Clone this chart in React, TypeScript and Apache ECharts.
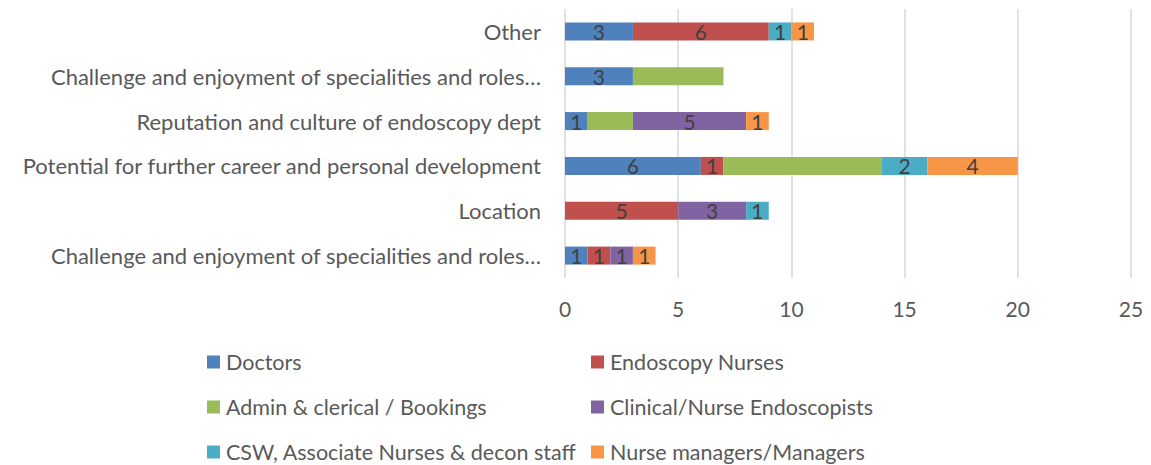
import React, { useEffect, useRef } from "react";
import * as echarts from "echarts";

const categories = [
  "Challenge and enjoyment of specialities and roles…",
  "Location",
  "Potential for further career and personal development",
  "Reputation and culture of endoscopy dept",
  "Challenge and enjoyment of specialities and roles…",
  "Other",
];

const seriesNames = [
  "Doctors",
  "Endoscopy Nurses",
  "Admin & clerical / Bookings",
  "Clinical/Nurse Endoscopists",
  "CSW, Associate Nurses & decon staff",
  "Nurse managers/Managers",
];

const doctors = [1, 0, 6, 1, 3, 3];
const endoscopyNurses = [1, 5, 1, 0, 0, 6];
const adminClerical = [0, 0, 7, 2, 4, 0];
const clinicalEndoscopists = [1, 3, 0, 5, 0, 0];
const cswStaff = [0, 1, 2, 0, 0, 1];
const managers = [1, 0, 4, 1, 0, 1];

const xTicks = [0, 5, 10, 15, 20, 25];

const colors = ["#4F81BD", "#C0504D", "#9BBB59", "#8064A2", "#4BACC6", "#F79646"];
const FONT = "Lato";

export default function App() {
  const ref = useRef<HTMLDivElement>(null);
  useEffect(() => {
    if (!ref.current) return;
    const chart = echarts.init(ref.current, null, { renderer: "svg" });
    const values = [doctors, endoscopyNurses, adminClerical, clinicalEndoscopists, cswStaff, managers];
    const showLabel = [true, true, false, true, true, true];
    const legendPos = [
      { left: 202, top: 346 },
      { left: 586, top: 346 },
      { left: 202, top: 391 },
      { left: 586, top: 391 },
      { left: 202, top: 436 },
      { left: 586, top: 436 },
    ];
    chart.setOption({
      animation: false,
      color: colors,
      grid: { left: 565, right: 20, top: 9, height: 269, containLabel: false },
      xAxis: {
        type: "value",
        min: xTicks[0],
        max: xTicks[xTicks.length - 1],
        interval: 5,
        axisLine: { show: false },
        axisTick: { show: false },
        splitLine: { lineStyle: { color: "#D9D9D9", width: 1.5 } },
        axisLabel: { color: "#595959", fontFamily: FONT, fontSize: 21, margin: 20 },
      },
      yAxis: {
        type: "category",
        data: categories,
        axisLine: { show: false },
        axisTick: { show: false },
        axisLabel: { color: "#595959", fontFamily: FONT, fontSize: 22, margin: 24 },
      },
      legend: seriesNames.map((n, i) => ({
        data: [n],
        left: legendPos[i].left,
        top: legendPos[i].top,
        itemWidth: 13,
        itemHeight: 13,
        itemGap: 0,
        icon: "rect",
        textStyle: { color: "#595959", fontFamily: FONT, fontSize: 21.5, padding: [0, 0, 0, 1] },
      })),
      series: seriesNames.map((n, i) => ({
        name: n,
        type: "bar",
        stack: "total",
        barWidth: 18,
        data: values[i].map((v) => (v === 0 ? null : v)),
        itemStyle: { color: colors[i] },
        label: {
          show: showLabel[i],
          position: "inside",
          color: "#404040",
          fontFamily: FONT,
          fontSize: 21,
        },
      })),
    });
    return () => chart.dispose();
  }, []);
  return <div ref={ref} style={{ width: 1151, height: 465, position: "absolute", left: 0, top: 0 }} />;
}
